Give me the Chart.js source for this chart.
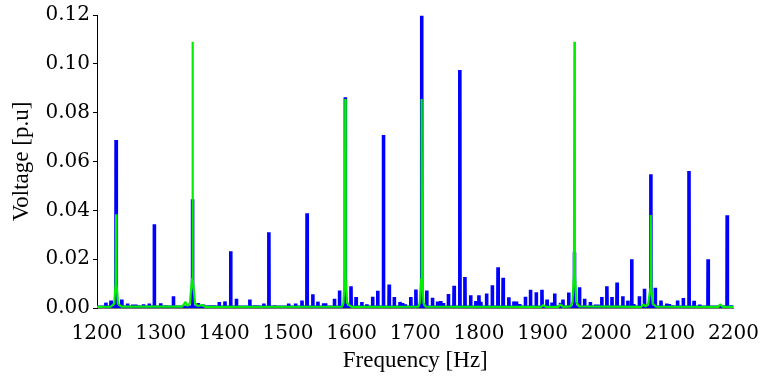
<!DOCTYPE html>
<html>
<head>
<meta charset="utf-8">
<script src="https://cdn.jsdelivr.net/npm/chart.js@4/dist/chart.umd.min.js"></script>
<style>
  body { margin: 0; background: #fff; }
</style>
</head>
<body>
<canvas id="spectrum" width="765" height="380"></canvas>
<script>
// blue spectrum: spike frequencies [Hz] and peak voltages [p.u]
const blueFreq = [1203, 1214, 1222, 1230, 1239, 1248, 1256, 1261, 1265, 1273, 1282, 1290, 1300, 1308, 1320, 1330, 1339, 1350,
  1359, 1367, 1375, 1379, 1384, 1392, 1401, 1410, 1419, 1428, 1440, 1448, 1452, 1462, 1470, 1479, 1484, 1501, 1512, 1522,
  1530, 1539, 1547, 1556, 1559, 1573, 1581, 1590, 1599, 1607, 1616, 1624, 1633, 1641, 1650, 1659, 1667, 1676, 1680, 1684,
  1693, 1701, 1710, 1718, 1727, 1735, 1740, 1744, 1752, 1761, 1770, 1778, 1787, 1795, 1800, 1803, 1812, 1821, 1830, 1838,
  1847, 1855, 1859, 1864, 1873, 1881, 1890, 1899, 1907, 1915, 1919, 1928, 1932, 1941, 1950, 1958, 1966, 1975, 1983, 1987,
  1993, 2001, 2009, 2017, 2026, 2034, 2040, 2043, 2052, 2060, 2070, 2077, 2086, 2095, 2099, 2103, 2112, 2121, 2130, 2138,
  2147, 2151, 2160, 2167, 2179, 2190, 2197];
const blueAmp = [0.0007, 0.0022, 0.0031, 0.0688, 0.0035, 0.0018, 0.0014, 0.0014, 0.0011, 0.0015, 0.0018, 0.0343, 0.0019, 0.0011, 0.0048, 0.0007, 0.0010, 0.0445,
  0.0020, 0.0014, 0.0011, 0.0011, 0.0011, 0.0025, 0.0027, 0.0232, 0.0038, 0.0008, 0.0035, 0.0011, 0.0011, 0.0018, 0.0310, 0.0011, 0.0007, 0.0018, 0.0018, 0.0031,
  0.0388, 0.0056, 0.0026, 0.0019, 0.0019, 0.0038, 0.0072, 0.0863, 0.0089, 0.0045, 0.0025, 0.0015, 0.0046, 0.0071, 0.0709, 0.0096, 0.0045, 0.0025, 0.0020, 0.0015,
  0.0045, 0.0076, 0.1197, 0.0072, 0.0042, 0.0027, 0.0029, 0.0020, 0.0057, 0.0091, 0.0975, 0.0127, 0.0052, 0.0029, 0.0052, 0.0025, 0.0059, 0.0093, 0.0167, 0.0124,
  0.0044, 0.0027, 0.0027, 0.0016, 0.0046, 0.0075, 0.0064, 0.0075, 0.0035, 0.0022, 0.0059, 0.0022, 0.0035, 0.0063, 0.0228, 0.0085, 0.0038, 0.0025, 0.0014, 0.0014,
  0.0045, 0.0089, 0.0045, 0.0104, 0.0048, 0.0030, 0.0200, 0.0016, 0.0048, 0.0079, 0.0548, 0.0083, 0.0031, 0.0018, 0.0016, 0.0011, 0.0031, 0.0041, 0.0561, 0.0029,
  0.0014, 0.0008, 0.0200, 0.0008, 0.0011, 0.0380, 0.0011];
const blueFloor = 0.0003;

// green spectrum, read as a polyline
const greenFreq = [1200, 1222, 1227, 1229.3, 1230, 1230.7, 1233, 1238, 1334, 1339, 1342, 1346, 1349.3, 1350, 1350.7, 1354, 1358, 1365, 1370,
  1585, 1587, 1589.3, 1590, 1590.7, 1593, 1596, 1600, 1705, 1707, 1709.3, 1710, 1710.7, 1713, 1716,
  1898, 1901, 1905, 1925, 1928, 1932, 1944, 1947, 1949.3, 1950, 1950.7, 1953, 1957,
  2055, 2058, 2062, 2066, 2069.3, 2070, 2070.7, 2073, 2078, 2176, 2179, 2183, 2200];
const greenAmp = [0.0005, 0.0006, 0.0018, 0.0100, 0.0384, 0.0100, 0.0018, 0.0006, 0.0006, 0.0025, 0.0008, 0.0020, 0.0120, 0.1090, 0.0120, 0.0020, 0.0008, 0.0012, 0.0005,
  0.0006, 0.0020, 0.0120, 0.0856, 0.0120, 0.0020, 0.0012, 0.0005, 0.0006, 0.0020, 0.0120, 0.0856, 0.0120, 0.0020, 0.0006,
  0.0005, 0.0012, 0.0005, 0.0005, 0.0015, 0.0005, 0.0007, 0.0025, 0.0140, 0.1090, 0.0140, 0.0025, 0.0007,
  0.0005, 0.0015, 0.0006, 0.0018, 0.0080, 0.0381, 0.0080, 0.0018, 0.0006, 0.0005, 0.0015, 0.0005, 0.0005];

const xTicks = [1200, 1300, 1400, 1500, 1600, 1700, 1800, 1900, 2000, 2100, 2200];
const yTicks = [0, 0.02, 0.04, 0.06, 0.08, 0.10, 0.12];

// each blue peak becomes a narrow spike standing on the floor
const bluePoints = [{ x: 1200, y: blueFloor }];
blueFreq.forEach((f, i) => {
    bluePoints.push({ x: f - 0.3, y: blueFloor });
    bluePoints.push({ x: f, y: blueAmp[i] });
    bluePoints.push({ x: f + 0.3, y: blueFloor });
});
bluePoints.push({ x: 2200, y: blueFloor });

const greenPoints = greenFreq.map((f, i) => ({ x: f, y: greenAmp[i] }));

const tickFont = { family: "DejaVu Serif", size: 20 };
const titleFont = { family: "Liberation Serif", size: 23 };

new Chart(document.getElementById("spectrum"), {
    type: "line",
    data: {
        datasets: [
            {
                data: greenPoints,
                borderColor: "#00ee00",
                borderWidth: 2.2,
                pointRadius: 0,
                tension: 0,
                borderJoinStyle: "bevel"
            },
            {
                data: bluePoints,
                borderColor: "#0000ff",
                borderWidth: 3.6,
                pointRadius: 0,
                tension: 0,
                borderJoinStyle: "bevel"
            }
        ]
    },
    options: {
        responsive: false,
        animation: false,
        layout: { padding: { left: 0, right: 2, top: 15, bottom: 0 } },
        plugins: {
            legend: { display: false },
            tooltip: { enabled: false }
        },
        scales: {
            x: {
                type: "linear",
                min: 1200,
                max: 2200,
                afterBuildTicks: s => { s.ticks = xTicks.map(v => ({ value: v })); },
                afterFit: s => { s.height = 72; },
                ticks: { font: tickFont, color: "#000", padding: 6, maxRotation: 0, callback: v => String(v) },
                grid: { display: false },
                border: { display: true, color: "#777", width: 1 },
                title: { display: true, text: "Frequency [Hz]", font: titleFont, color: "#000", padding: { top: 0, bottom: 5 } }
            },
            y: {
                min: 0,
                max: 0.12,
                afterBuildTicks: s => { s.ticks = yTicks.map(v => ({ value: v })); },
                afterFit: s => { s.width = 97; },
                ticks: { font: tickFont, color: "#000", padding: 3, callback: v => v.toFixed(2) },
                grid: { display: true, drawOnChartArea: false, drawTicks: true, tickLength: 4, color: "#000" },
                border: { display: true, color: "#000", width: 1 },
                title: { display: true, text: "Voltage [p.u]", font: titleFont, color: "#000", padding: { top: 8, bottom: 0 } }
            }
        }
    }
});
</script>
</body>
</html>
